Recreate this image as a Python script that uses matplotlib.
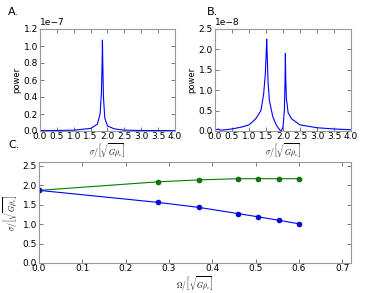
import matplotlib.pyplot as plt
import numpy as np

# panel A spectrum (power in units of 1e-7)
sig_a = [0, 0.5, 1.0, 1.5, 1.7, 1.78, 1.82, 1.84, 1.85, 1.86, 1.88, 1.92, 2.0, 2.2, 2.5, 3.0, 4.0]
pow_a = [0.005, 0.006, 0.01, 0.03, 0.08, 0.2, 0.45, 0.8, 1.07, 0.8, 0.4, 0.15, 0.06, 0.025, 0.01, 0.006, 0.004]

# panel B spectrum (power in units of 1e-8)
sig_b = [0, 0.1, 0.15, 0.3, 0.5, 0.8, 1.0, 1.2, 1.35, 1.43, 1.48, 1.51, 1.52, 1.53, 1.56, 1.6, 1.7,
         1.8, 1.9, 1.95, 2.0, 2.04, 2.06, 2.07, 2.08, 2.1, 2.15, 2.25, 2.5, 3.0, 3.5, 4.0]
pow_b = [0.02, 0.05, 0.02, 0.03, 0.05, 0.1, 0.15, 0.3, 0.5, 0.9, 1.4, 2.0, 2.25, 2.0, 1.2, 0.75, 0.35,
         0.15, 0.03, 0.0, 0.1, 0.5, 1.2, 1.9, 1.3, 0.8, 0.45, 0.3, 0.15, 0.08, 0.05, 0.03]

# panel C: mode frequencies vs rotation
omega = [0.0, 0.275, 0.37, 0.46, 0.505, 0.553, 0.6]
upper = [1.87, 2.09, 2.14, 2.17, 2.17, 2.17, 2.17]
lower = [1.87, 1.56, 1.43, 1.27, 1.19, 1.10, 1.01]

FS = 6.5
SIG_LABEL = r'$\sigma/\left[\sqrt{G\rho_c}\right]$'

plt.rcParams['font.size'] = FS
plt.rcParams['xtick.direction'] = 'in'
plt.rcParams['ytick.direction'] = 'in'
plt.rcParams['xtick.top'] = True
plt.rcParams['ytick.right'] = True
plt.rcParams['xtick.major.size'] = 3
plt.rcParams['ytick.major.size'] = 3
plt.rcParams['xtick.major.pad'] = 1
plt.rcParams['ytick.major.pad'] = 1.5
plt.rcParams['axes.edgecolor'] = '#999999'
plt.rcParams['mathtext.fontset'] = 'cm'

fig = plt.figure(figsize=(3.9, 2.93), dpi=100)
W, H = 390, 293


def add_ax(l, t, r, b):
    return fig.add_axes([l / W, 1 - b / H, (r - l) / W, (b - t) / H])


ax_a = add_ax(40, 29, 175, 131)
ax_b = add_ax(215, 29, 351, 131)
ax_c = add_ax(39, 162, 351, 263)

ax_a.plot(sig_a, np.array(pow_a) * 1e-7, color='#0000ff', lw=0.8)
ax_a.set_xlim(0, 4)
ax_a.set_ylim(0, 1.2e-7)
ax_a.set_yticks(np.arange(0, 1.21e-7, 0.2e-7))

ax_b.plot(sig_b, np.array(pow_b) * 1e-8, color='#0000ff', lw=0.8)
ax_b.set_xlim(0, 4)
ax_b.set_ylim(0, 2.5e-8)
ax_b.set_yticks(np.arange(0, 2.51e-8, 0.5e-8))

for ax in (ax_a, ax_b):
    ax.set_xticks(np.arange(0, 4.01, 0.5))
    ax.set_xlabel(SIG_LABEL, labelpad=0, fontsize=5.5)
    ax.set_ylabel('power', labelpad=2, fontsize=6)
    ax.yaxis.get_offset_text().set_fontsize(FS)

ax_c.plot(omega, upper, color='#008000', lw=0.8, marker='o', ms=3.5, mec='#005000', mew=0.5)
ax_c.plot(omega, lower, color='#0000ff', lw=0.8, marker='o', ms=3.5, mec='#000080', mew=0.5)
ax_c.set_xlim(0, 0.72)
ax_c.set_ylim(0, 2.6)
ax_c.set_xticks(np.arange(0, 0.71, 0.1))
ax_c.set_yticks(np.arange(0, 2.51, 0.5))
ax_c.set_xlabel(r'$\Omega/\left[\sqrt{G\rho_c}\right]$', labelpad=1, fontsize=5.5)
ax_c.set_ylabel(SIG_LABEL, labelpad=2, fontsize=5.5)

for ax in (ax_a, ax_b, ax_c):
    for sp in ax.spines.values():
        sp.set_linewidth(0.8)
    ax.tick_params(width=0.5, color='#444444')

fig.text(8 / W, 1 - 12 / H, 'A.', fontsize=8, va='center')
fig.text(207 / W, 1 - 12 / H, 'B.', fontsize=8, va='center')
fig.text(8 / W, 1 - 145 / H, 'C.', fontsize=8, va='center')

fig.savefig('out.png', dpi=100)
